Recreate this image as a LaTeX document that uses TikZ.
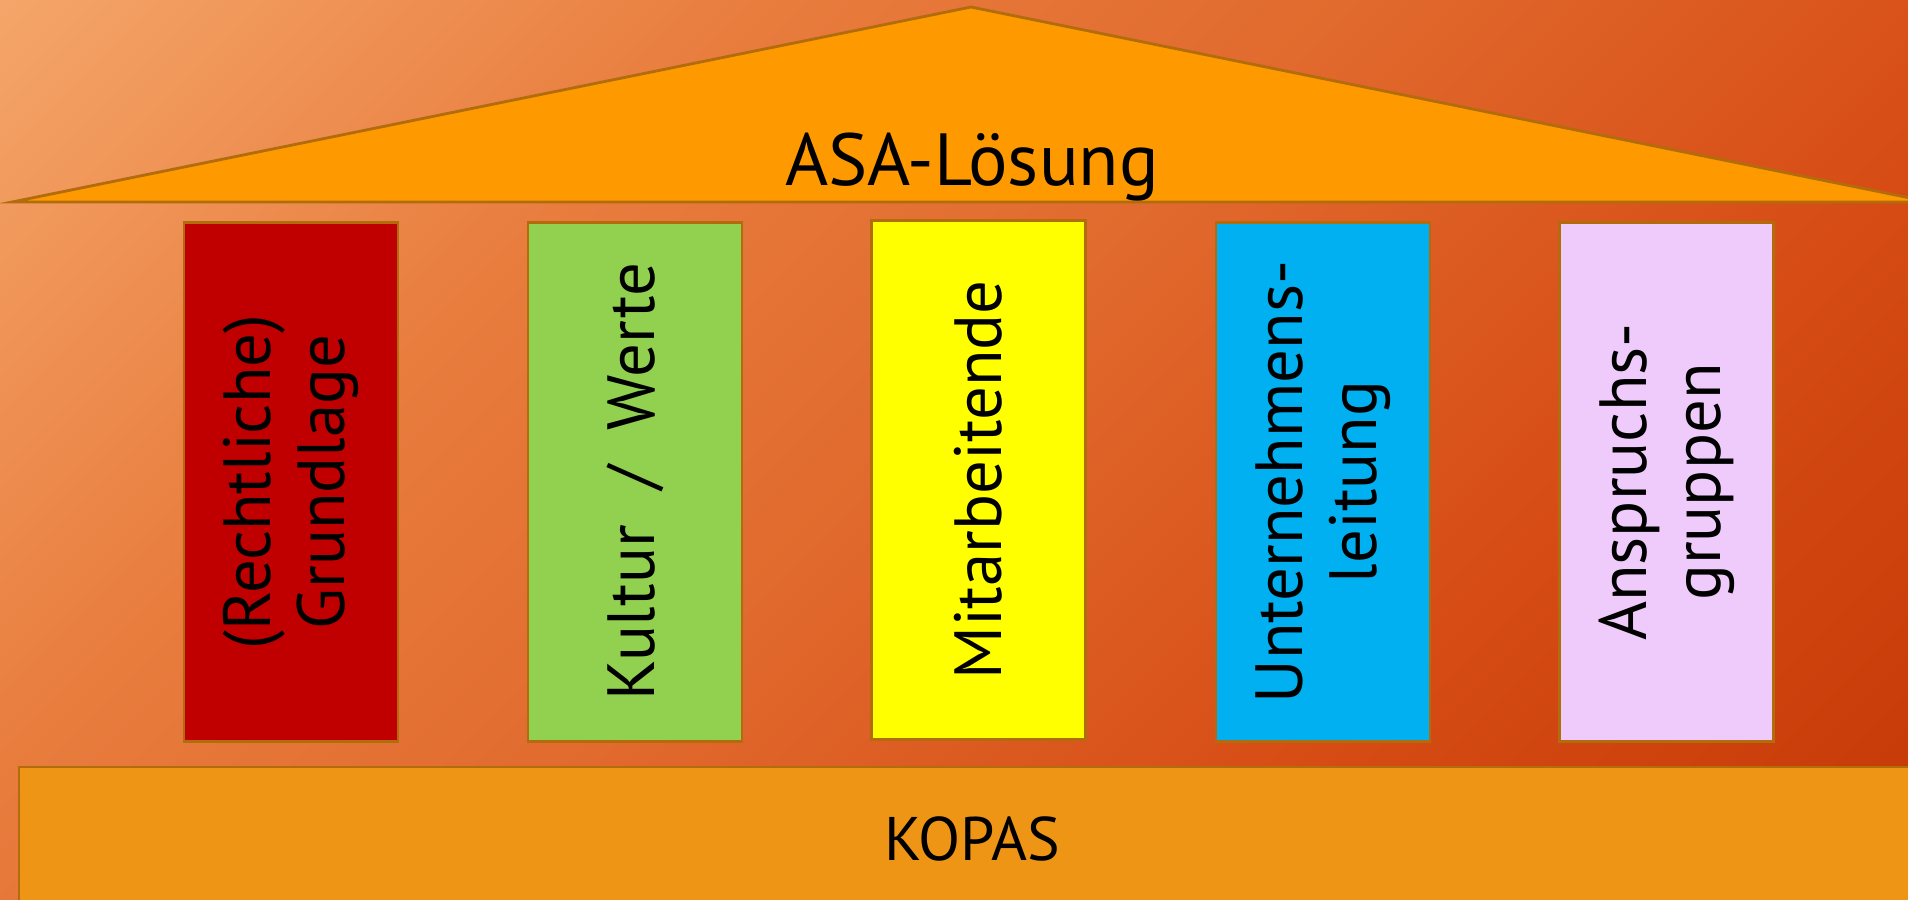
\documentclass[tikz,border=0pt]{standalone}
\usepackage{fontspec}
\setmainfont{PT Sans}
\usepackage{tikz}

\definecolor{edgebrown}{RGB}{178,108,12}
\definecolor{bgA}{RGB}{245,165,105}
\definecolor{bgB}{RGB}{232,125,62}
\definecolor{bgC}{RGB}{225,105,45}
\definecolor{bgD}{RGB}{214,76,20}
\definecolor{bgE}{RGB}{196,56,6}
\definecolor{rooforange}{RGB}{255,153,0}
\definecolor{baseorange}{RGB}{239,149,22}
\definecolor{pillarred}{RGB}{192,0,0}
\definecolor{pillargreen}{RGB}{146,208,80}
\definecolor{pillaryellow}{RGB}{255,255,0}
\definecolor{pillarblue}{RGB}{0,176,240}
\definecolor{pillarlilac}{RGB}{239,203,251}

\pgfdeclarehorizontalshading{bgshade}{100bp}{color(0bp)=(bgA); color(25bp)=(bgA);
    color(38.5bp)=(bgB); color(49.5bp)=(bgC); color(62bp)=(bgD); color(75bp)=(bgE); color(100bp)=(bgE)}

\begin{document}
\begin{tikzpicture}[x=0.01cm, y=-0.01cm,
    pillar_node/.style={draw=edgebrown, line width=0.8pt, rotate=90, inner sep=0pt,
        minimum width=5.19cm, minimum height=2.14cm, align=center,
        font=\fontsize{19}{21}\selectfont},
    block_shape/.style={draw=edgebrown, line width=0.8pt}]

    \useasboundingbox (0,0) rectangle (1908,899);
    \clip (0,0) rectangle (1908,899);
    % background, square so the diagonal shading is not stretched
    \shade[shading=bgshade, shading angle=-45] (-38,-542.5) rectangle (1946,1441.5);

    % roof and base
    \draw[block_shape, fill=rooforange] (12,202) -- (971,7) -- (1930,202) -- cycle;
    \draw[block_shape, fill=baseorange] (19,767) rectangle (1930,920);

    \node[anchor=base, font=\fontsize{21}{24}\selectfont] (roof) at (972,185) {ASA-Lösung};
    \node[anchor=base, font=\fontsize{17.5}{20}\selectfont] (base) at (972,860) {KOPAS};

    % pillars
    \node[pillar_node, fill=pillarred] (1) at (291,482) {(Rechtliche)\\Grundlage};
    \node[pillar_node, fill=pillargreen] (2) at (635,482) {Kultur~~/~~Werte};
    \node[pillar_node, fill=pillaryellow] (3) at (978.5,480) {Mitarbeitende};
    \node[pillar_node, fill=pillarblue] (4) at (1323,482) {Unternehmens-\\leitung};
    \node[pillar_node, fill=pillarlilac] (5) at (1666.5,482) {Anspruchs-\\gruppen};

\end{tikzpicture}
\end{document}
